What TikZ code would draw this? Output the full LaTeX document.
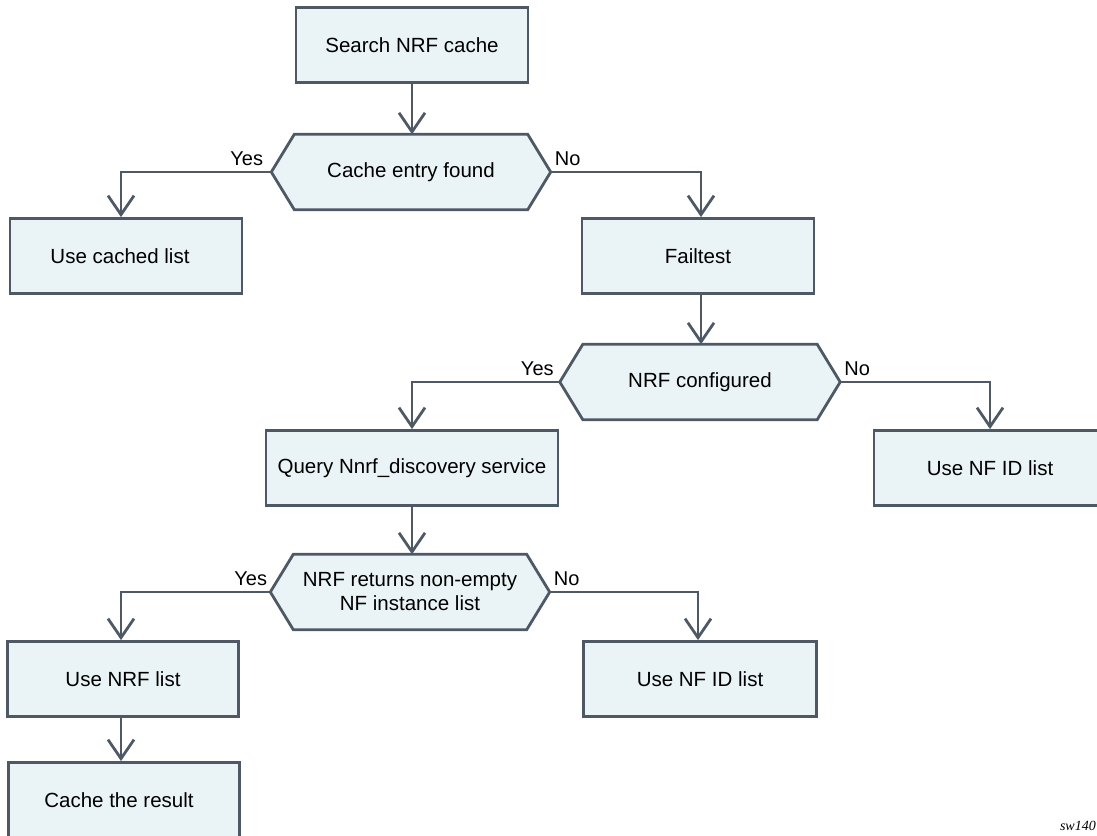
\documentclass[tikz,border=0pt]{standalone}
\usepackage{fontspec}
\setmainfont{Liberation Sans}
\newfontfamily\serifit{Liberation Serif}
\usetikzlibrary{arrows.meta,backgrounds,positioning}
\definecolor{edgecol}{HTML}{4F5966}
\definecolor{fillcol}{HTML}{EAF3F5}
\tikzset{
  boxnode/.style={draw=edgecol, fill=fillcol, line width=2.8pt, minimum height=75pt, inner sep=2pt, align=center, font=\fontsize{20.5}{24}\selectfont},
  hexnode/.style={minimum height=75pt, minimum width=279pt, inner sep=2pt, align=center, font=\fontsize{20.5}{24}\selectfont},
  hexshape/.style={draw=edgecol, fill=fillcol, line width=2.8pt, line join=miter},
  conn/.style={draw=edgecol, line width=2.8pt, -{Straight Barb[length=19pt,width=26pt,line width=2.8pt]}},
  lbl/.style={inner sep=0pt, font=\fontsize{20}{24}\selectfont},
}
\newcommand{\hexoutline}[1]{%
  \begin{pgfonlayer}{background}
  \path[hexshape] (#1.west) -- ([xshift=23pt]#1.north west) -- ([xshift=-23pt]#1.north east) -- (#1.east) -- ([xshift=-23pt]#1.south east) -- ([xshift=23pt]#1.south west) -- cycle;
  \end{pgfonlayer}}
\begin{document}
\begin{tikzpicture}[x=1pt,y=-1pt]
\useasboundingbox (0,0) rectangle (1097,835);
% boxes
\node[boxnode, minimum width=232pt] (s1) at (412,45) {Search NRF cache};
\node[hexnode] (d1) at (411,172) {Cache entry found};
\hexoutline{d1}
\node[boxnode, minimum width=232pt] (b1) at (126,256) {\hspace*{-12pt}Use cached list};
\node[boxnode, minimum width=232pt] (b2) at (698,256) {Failtest};
\node[hexnode, minimum width=280pt] (d2) at (700,382) {NRF configured};
\hexoutline{d2}
\node[boxnode, minimum width=292pt] (b3) at (412,468) {Query Nnrf\_discovery service};
\node[boxnode, minimum width=232pt] (b4) at (990,468) {Use NF ID list};
\node[hexnode] (d3) at (410,592) {NRF returns non-empty\\NF instance list};
\hexoutline{d3}
\node[boxnode, minimum width=231pt] (b5) at (123,679) {Use NRF list};
\node[boxnode, minimum width=231pt] (b7) at (124,800) {\hspace*{-10pt}Cache the result};
\node[boxnode, minimum width=233pt] (b6) at (700,679) {Use NF ID list};
% corner coordinates for arrows
\coordinate (a1) at (121,0);
\coordinate (a2) at (701,0);
\coordinate (a3) at (412,0);
\coordinate (a4) at (990,0);
\coordinate (a5) at (121,0);
\coordinate (a6) at (698,0);
% connectors
\draw[conn] (s1.south) -- (s1.south |- d1.north);
\draw[conn] (d1.west) -| (a1 |- b1.north);
\draw[conn] (d1.east) -| (a2 |- b2.north);
\draw[conn] (a2 |- b2.south) -- (a2 |- d2.north);
\draw[conn] (d2.west) -| (a3 |- b3.north);
\draw[conn] (d2.east) -| (a4 |- b4.north);
\draw[conn] (a3 |- b3.south) -- (a3 |- d3.north);
\draw[conn] (d3.west) -| (a5 |- b5.north);
\draw[conn] (d3.east) -| (a6 |- b6.north);
\draw[conn] (a5 |- b5.south) -- (a5 |- b7.north);
% labels
\node[lbl, anchor=base east] (y1) at ([xshift=-8pt,yshift=7pt]d1.west) {Yes};
\node[lbl, anchor=base west] (n1) at ([xshift=4pt,yshift=7pt]d1.east) {No};
\node[lbl, anchor=base east] (y2) at ([xshift=-6pt,yshift=7pt]d2.west) {Yes};
\node[lbl, anchor=base west] (n2) at ([xshift=4pt,yshift=7pt]d2.east) {No};
\node[lbl, anchor=base east] (y3) at ([xshift=-3pt,yshift=7pt]d3.west) {Yes};
\node[lbl, anchor=base west] (n3) at ([xshift=4pt,yshift=7pt]d3.east) {No};
\node[inner sep=0pt, anchor=base east, font=\serifit\itshape\fontsize{14}{16}\selectfont] (sw) at (1096,830) {sw140};
\end{tikzpicture}
\end{document}
